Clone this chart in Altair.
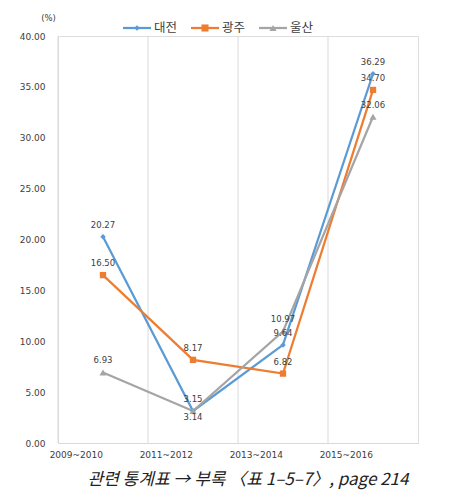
import altair as alt
import pandas as pd

periods = ["2009~2010", "2011~2012", "2013~2014", "2015~2016"]
series_names = ["대전", "광주", "울산"]
daejeon = [20.27, 3.15, 9.64, 36.29]
gwangju = [16.50, 8.17, 6.82, 34.70]
ulsan = [6.93, 3.14, 10.97, 32.06]
y_ticks = [0, 5, 10, 15, 20, 25, 30, 35, 40]
caption = "관련 통계표 → 부록 〈표 1–5–7〉, page 214"

colors = ["#5B9BD5", "#ED7D31", "#A5A5A5"]
shapes = ["diamond", "square", "triangle-up"]
sizes = [30, 50, 50]
below_labels = [("울산", "2011~2012")]

W, H = 360, 407
rows = []
for name, vals in zip(series_names, [daejeon, gwangju, ulsan]):
    for p, v in zip(periods, vals):
        rows.append({"series": name, "period": p, "value": v,
                     "label": f"{v:.2f}",
                     "below": (name, p) in below_labels})
df = pd.DataFrame(rows)

xenc = alt.X("period:N", sort=periods, title=None,
             scale=alt.Scale(type="band", paddingInner=0, paddingOuter=0),
             axis=alt.Axis(grid=False, ticks=False, domainColor="#d9d9d9",
                           labelFont="DejaVu Sans", labelFontSize=9,
                           labelColor="#404040", labelPadding=11, labelAngle=0))
yenc = alt.Y("value:Q", title="(%)",
             scale=alt.Scale(domain=[0, 40], nice=False),
             axis=alt.Axis(values=y_ticks, format=".2f", grid=False, ticks=False,
                           domain=False, labelFont="DejaVu Sans", labelFontSize=9,
                           labelColor="#404040", labelPadding=13,
                           titleAngle=0, titleX=-10, titleY=-14,
                           titleFont="DejaVu Sans", titleFontSize=8.5,
                           titleFontWeight="normal", titleColor="#404040",
                           titleAlign="center"))
cenc = alt.Color("series:N", sort=series_names,
                 scale=alt.Scale(domain=series_names, range=colors), legend=None)
senc = alt.Shape("series:N", sort=series_names,
                 scale=alt.Scale(domain=series_names, range=shapes), legend=None)
zenc = alt.Size("series:N", sort=series_names,
                scale=alt.Scale(domain=series_names, range=sizes), legend=None)

grid = alt.Chart(pd.DataFrame({"period": periods})).mark_rule(
    color="#d9d9d9", strokeWidth=1).encode(
    x=alt.X("period:N", sort=periods, bandPosition=0),
    y=alt.value(0), y2=alt.value(H))

base = alt.Chart(df)
lines = base.mark_line(strokeWidth=2.25).encode(x=xenc, y=yenc, color=cenc, detail="series:N")
points = base.mark_point(filled=True, opacity=1).encode(
    x="period:N", y="value:Q", color=cenc, shape=senc, size=zenc)
text_style = dict(font="DejaVu Sans", fontSize=8.5, color="#404040")
labels_above = base.transform_filter("!datum.below").mark_text(dy=-12, **text_style).encode(
    x="period:N", y="value:Q", text="label:N")
labels_below = base.transform_filter("datum.below").mark_text(dy=6, **text_style).encode(
    x="period:N", y="value:Q", text="label:N")

legend_layers = []
leg_x = [65, 133, 201]
for i, name in enumerate(series_names):
    x0 = leg_x[i]
    d = alt.Chart(pd.DataFrame({"s": [name]}))
    legend_layers.append(d.mark_rule(color=colors[i], strokeWidth=2.25).encode(
        x=alt.value(x0), x2=alt.value(x0 + 28), y=alt.value(-8)))
    legend_layers.append(d.mark_point(shape=shapes[i], filled=True, opacity=1,
                                      color=colors[i], size=sizes[i]).encode(
        x=alt.value(x0 + 14), y=alt.value(-8)))
    legend_layers.append(d.mark_text(align="left", baseline="middle",
                                     font="Noto Sans CJK KR", fontSize=12.5,
                                     color="#404040").encode(
        x=alt.value(x0 + 31), y=alt.value(-8), text="s:N"))

chart = alt.layer(grid, lines, points, labels_above, labels_below, *legend_layers).properties(
    width=W, height=H,
    autosize="none",
    padding={"left": 50, "top": 28, "right": 26, "bottom": 51},
    title=alt.TitleParams(caption, orient="bottom", anchor="middle", dx=10, offset=13,
                          font="Noto Sans CJK KR", fontSize=17, fontStyle="italic",
                          fontWeight="normal", color="#222222"),
).configure_view(stroke=None).configure(background="white")

chart.save("out.html", embed_options={"renderer": "svg", "actions": False})
